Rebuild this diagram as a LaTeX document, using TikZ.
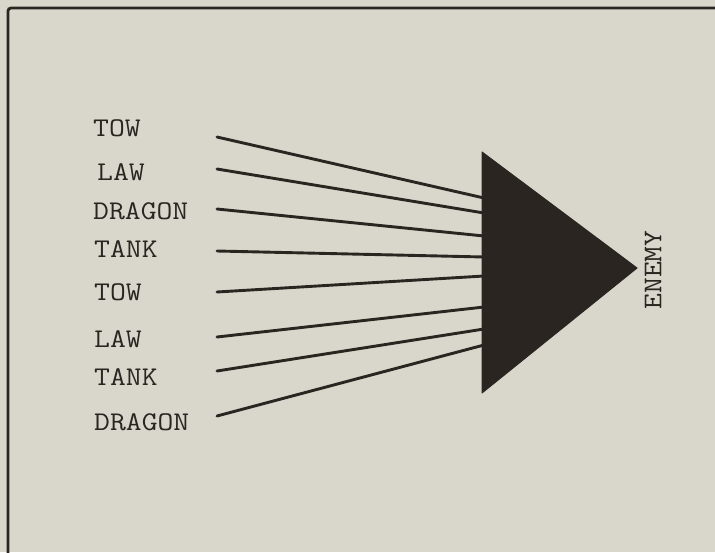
\documentclass[tikz,border=0pt]{standalone}
\usepackage{graphicx}
\definecolor{paper}{RGB}{217,215,204}
\definecolor{ink}{RGB}{42,37,33}
\tikzset{
  lbl/.style={anchor=west, inner sep=0pt, text=ink},
  ray/.style={draw=ink, line width=2.9pt, line cap=round},
  frame/.style={draw=ink, line width=2.8pt, rounded corners=3pt}
}
\newcommand{\lbltext}[1]{\scalebox{1.14}[1]{\fontsize{27}{27}\selectfont\ttfamily #1}}
\begin{document}
\begin{tikzpicture}[x=1pt,y=-1pt]
  \fill[paper] (0,0) rectangle (715,552);
  \useasboundingbox (0,0) rectangle (715,552);
  % frame
  \draw[frame] (8,560) -- (8,8) -- (720,8);
  % labels
  \node[lbl] (l1) at (93,128) {\lbltext{TOW}};
  \node[lbl] (l2) at (97,172) {\lbltext{LAW}};
  \node[lbl] (l3) at (93,211) {\lbltext{DRAGON}};
  \node[lbl] (l4) at (94,249) {\lbltext{TANK}};
  \node[lbl] (l5) at (94,292) {\lbltext{TOW}};
  \node[lbl] (l6) at (94,339) {\lbltext{LAW}};
  \node[lbl] (l7) at (94,377) {\lbltext{TANK}};
  \node[lbl] (l8) at (94,422) {\lbltext{DRAGON}};
  % ray start / end points
  \coordinate (s1) at (217,137); \coordinate (e1) at (484,198);
  \coordinate (s2) at (217,169); \coordinate (e2) at (484,213);
  \coordinate (s3) at (217,209); \coordinate (e3) at (484,236);
  \coordinate (s4) at (217,251); \coordinate (e4) at (484,257);
  \coordinate (s5) at (217,292); \coordinate (e5) at (484,276);
  \coordinate (s6) at (217,337); \coordinate (e6) at (484,307);
  \coordinate (s7) at (217,371); \coordinate (e7) at (484,329);
  \coordinate (s8) at (217,416); \coordinate (e8) at (484,345);
  \foreach \i in {1,...,8} { \draw[ray] (s\i) -- (e\i); }
  % enemy triangle
  \coordinate (tA) at (482,152);
  \coordinate (tB) at (482,393);
  \coordinate (tC) at (637,268);
  \fill[ink, draw=ink, line width=1pt, line join=round] (tA) -- (tC) -- (tB) -- cycle;
  \node[inner sep=0pt, text=ink, rotate=90] (enemy) at (653,270) {\lbltext{ENEMY}};
\end{tikzpicture}
\end{document}
